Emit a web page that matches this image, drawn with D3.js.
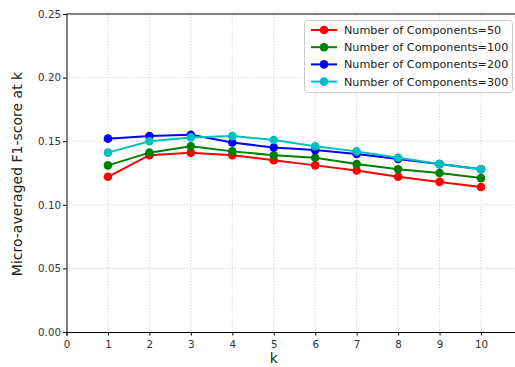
<!DOCTYPE html>
<html>
<head>
<meta charset="utf-8">
<script src="https://cdn.jsdelivr.net/npm/d3@7"></script>
<style>
  body { margin: 0; background: #fff; }
  svg { display: block; font-family: "DejaVu Sans", sans-serif; }
  .grid line { stroke: #d0d0d0; stroke-dasharray: 1.5,1.5; stroke-width: 0.8; }
  .tick text { fill: #333; }
</style>
</head>
<body>
<svg id="chart" width="515" height="367"></svg>
<script>
let kValues = [1, 2, 3, 4, 5, 6, 7, 8, 9, 10]
let comp50 = [0.122, 0.139, 0.141, 0.139, 0.135, 0.131, 0.127, 0.122, 0.118, 0.114]
let comp100 = [0.131, 0.141, 0.146, 0.142, 0.139, 0.137, 0.132, 0.128, 0.125, 0.121]
let comp200 = [0.152, 0.154, 0.155, 0.149, 0.145, 0.143, 0.140, 0.136, 0.132, 0.128]
let comp300 = [0.141, 0.150, 0.153, 0.154, 0.151, 0.146, 0.142, 0.137, 0.132, 0.128]
let seriesNames = ['Number of Components=50', 'Number of Components=100', 'Number of Components=200', 'Number of Components=300']
let seriesColors = ['#ff0000', '#008000', '#0000ff', '#00bfbf']
let xTicks = [0, 1, 2, 3, 4, 5, 6, 7, 8, 9, 10]
let yTicks = [0, 0.05, 0.10, 0.15, 0.20, 0.25]

let allSeries = [comp50, comp100, comp200, comp300]

let svg = d3.select('#chart')
let plotLeft = 66.5, plotTop = 14, plotBottom = 332, plotRight = 520

let xScale = d3.scaleLinear().domain([0, 10.9]).range([plotLeft, plotLeft + 10.9 * 41.45])
let yScale = d3.scaleLinear().domain([0, 0.25]).range([plotBottom, plotTop])

// grid
let grid = svg.append('g').attr('class', 'grid')
grid.selectAll('.gx').data(xTicks.slice(1)).enter().append('line')
    .attr('x1', d => xScale(d)).attr('x2', d => xScale(d))
    .attr('y1', plotTop).attr('y2', plotBottom)
grid.selectAll('.gy').data(yTicks.slice(1, -1)).enter().append('line')
    .attr('x1', plotLeft).attr('x2', plotRight)
    .attr('y1', d => yScale(d)).attr('y2', d => yScale(d))

// axes
let xAxis = d3.axisBottom(xScale).tickValues(xTicks).tickFormat(d3.format('d')).tickSizeOuter(0).tickSize(3.5)
let yAxis = d3.axisLeft(yScale).tickValues(yTicks).tickFormat(d3.format('.2f')).tickSizeOuter(0).tickSize(3.5)

let gx = svg.append('g').attr('transform', 'translate(0,' + plotBottom + ')').call(xAxis)
gx.selectAll('text').attr('font-size', 10.3).attr('font-family', 'DejaVu Sans').attr('dy', '0.95em')
gx.select('.domain').attr('stroke', '#000')

let gy = svg.append('g').attr('transform', 'translate(' + plotLeft + ',0)').call(yAxis)
gy.selectAll('text').attr('font-size', 10.3).attr('font-family', 'DejaVu Sans').attr('x', -5.5)
gy.select('.domain').attr('stroke', '#000')

// top spine
svg.append('line').attr('x1', plotLeft).attr('x2', plotRight).attr('y1', plotTop).attr('y2', plotTop)
    .attr('stroke', '#000').attr('stroke-width', 1)

// lines
let line = d3.line().x((d, i) => xScale(kValues[i])).y(d => yScale(d))

allSeries.forEach((values, s) => {
    svg.append('path')
        .datum(values)
        .attr('d', line)
        .attr('fill', 'none')
        .attr('stroke', seriesColors[s])
        .attr('stroke-width', 2)
    svg.selectAll('.dot' + s).data(values).enter().append('circle')
        .attr('cx', (d, i) => xScale(kValues[i]))
        .attr('cy', d => yScale(d))
        .attr('r', 4.3)
        .attr('fill', seriesColors[s])
})

// labels
svg.append('text').attr('x', xScale(5)).attr('y', 363).attr('text-anchor', 'middle')
    .attr('font-size', 14).attr('fill', '#222').text('k')
svg.append('text').attr('transform', 'translate(22,174) rotate(-90)')
    .attr('text-anchor', 'middle').attr('font-size', 14).attr('fill', '#222')
    .text('Micro-averaged F1-score at k')

// legend
let legend = svg.append('g')
legend.append('rect').attr('x', 304.5).attr('y', 20.5).attr('width', 208).attr('height', 72)
    .attr('rx', 3).attr('fill', '#fff').attr('fill-opacity', 0.85).attr('stroke', '#ccc')
seriesNames.forEach((name, s) => {
    let y = 30 + s * 17.2
    legend.append('line').attr('x1', 311).attr('x2', 337).attr('y1', y).attr('y2', y)
        .attr('stroke', seriesColors[s]).attr('stroke-width', 2)
    legend.append('circle').attr('cx', 324).attr('cy', y).attr('r', 4.3).attr('fill', seriesColors[s])
    legend.append('text').attr('x', 344).attr('y', y).attr('dy', '0.35em')
        .attr('font-size', 11.2).attr('fill', '#222').text(name)
})
</script>
</body>
</html>
